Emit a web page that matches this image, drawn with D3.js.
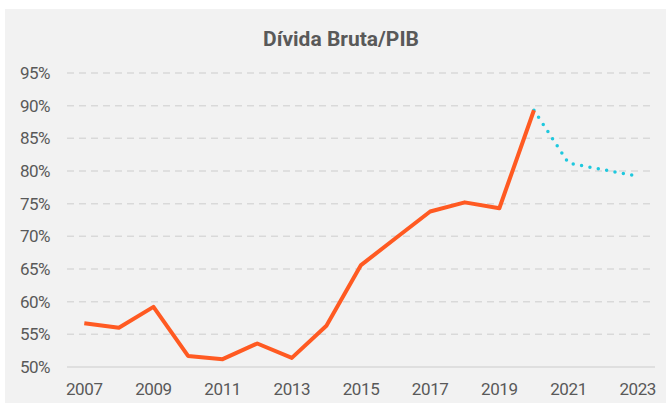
<!DOCTYPE html>
<html>
<head>
<meta charset="utf-8">
<script src="https://cdn.jsdelivr.net/npm/d3@7"></script>
<style>
  body { margin: 0; background: #fff; }
  text { font-family: Roboto, "DejaVu Sans", sans-serif; }
</style>
</head>
<body>
<svg id="chart" width="666" height="403"></svg>
<script>
var years = ['2007', '2008', '2009', '2010', '2011', '2012', '2013', '2014', '2015',
    '2016', '2017', '2018', '2019', '2020', '2021', '2022', '2023'];
var histYears = ['2007', '2008', '2009', '2010', '2011', '2012', '2013', '2014', '2015',
    '2016', '2017', '2018', '2019', '2020'];
var histValues = [56.7, 56.0, 59.2, 51.7, 51.2, 53.6, 51.4, 56.3, 65.6, 69.7, 73.8, 75.2, 74.3, 89.3];
var projYears = ['2020', '2021', '2022', '2023'];
var projValues = [89.3, 81.2, 80.2, 79.2];
var yTicks = [50, 55, 60, 65, 70, 75, 80, 85, 90, 95];
var xLabels = ['2007', '2009', '2011', '2013', '2015', '2017', '2019', '2021', '2023'];

var drawChart = function () {
    const LEFT = 67, RIGHT = 655, TOP = 73, BOTTOM = 367;
    var svg = d3.select('#chart');

    svg.append('rect')
        .attr('x', 5).attr('y', 9)
        .attr('width', 661).attr('height', 394)
        .attr('fill', '#f2f2f2');

    svg.append('text')
        .attr('x', 341).attr('y', 46)
        .attr('text-anchor', 'middle')
        .attr('font-size', 21)
        .attr('font-weight', 'bold')
        .attr('fill', '#595959')
        .text('Dívida Bruta/PIB');

    var xScale = d3.scaleBand().domain(years).range([LEFT, RIGHT]);
    var xPos = function (d) { return xScale(d) + xScale.bandwidth() / 2; };
    var yScale = d3.scaleLinear().domain([50, 95]).range([BOTTOM, TOP]);

    // gridlines
    svg.append('g').selectAll('line')
        .data(yTicks)
        .enter()
        .append('line')
        .attr('x1', LEFT).attr('x2', RIGHT)
        .attr('y1', function (d) { return yScale(d); })
        .attr('y2', function (d) { return yScale(d); })
        .attr('stroke', '#d9d9d9')
        .attr('stroke-width', 1.5)
        .attr('stroke-dasharray', function (d) { return d === 50 ? null : '7,5'; });

    // y labels
    svg.append('g').selectAll('text')
        .data(yTicks)
        .enter()
        .append('text')
        .attr('x', 50)
        .attr('y', function (d) { return yScale(d); })
        .attr('dy', '0.35em')
        .attr('text-anchor', 'end')
        .attr('font-size', 17)
        .attr('letter-spacing', -0.5)
        .attr('fill', '#595959')
        .text(function (d) { return d + '%'; });

    // x labels
    svg.append('g').selectAll('text')
        .data(xLabels)
        .enter()
        .append('text')
        .attr('x', xPos)
        .attr('y', 395)
        .attr('text-anchor', 'middle')
        .attr('font-size', 17)
        .attr('letter-spacing', -0.4)
        .attr('fill', '#595959')
        .text(function (d) { return d; });

    var line = d3.line()
        .x(function (d) { return xPos(d[0]); })
        .y(function (d) { return yScale(d[1]); });

    svg.append('path')
        .datum(d3.zip(projYears, projValues))
        .attr('d', line)
        .attr('fill', 'none')
        .attr('stroke', '#1ec8de')
        .attr('stroke-width', 3.5)
        .attr('stroke-linecap', 'round')
        .attr('stroke-dasharray', '0,8.5');

    svg.append('path')
        .datum(d3.zip(histYears, histValues))
        .attr('d', line)
        .attr('fill', 'none')
        .attr('stroke', '#ff5a22')
        .attr('stroke-width', 4)
        .attr('stroke-linejoin', 'round');
};

window.onload = drawChart;
</script>
</body>
</html>
